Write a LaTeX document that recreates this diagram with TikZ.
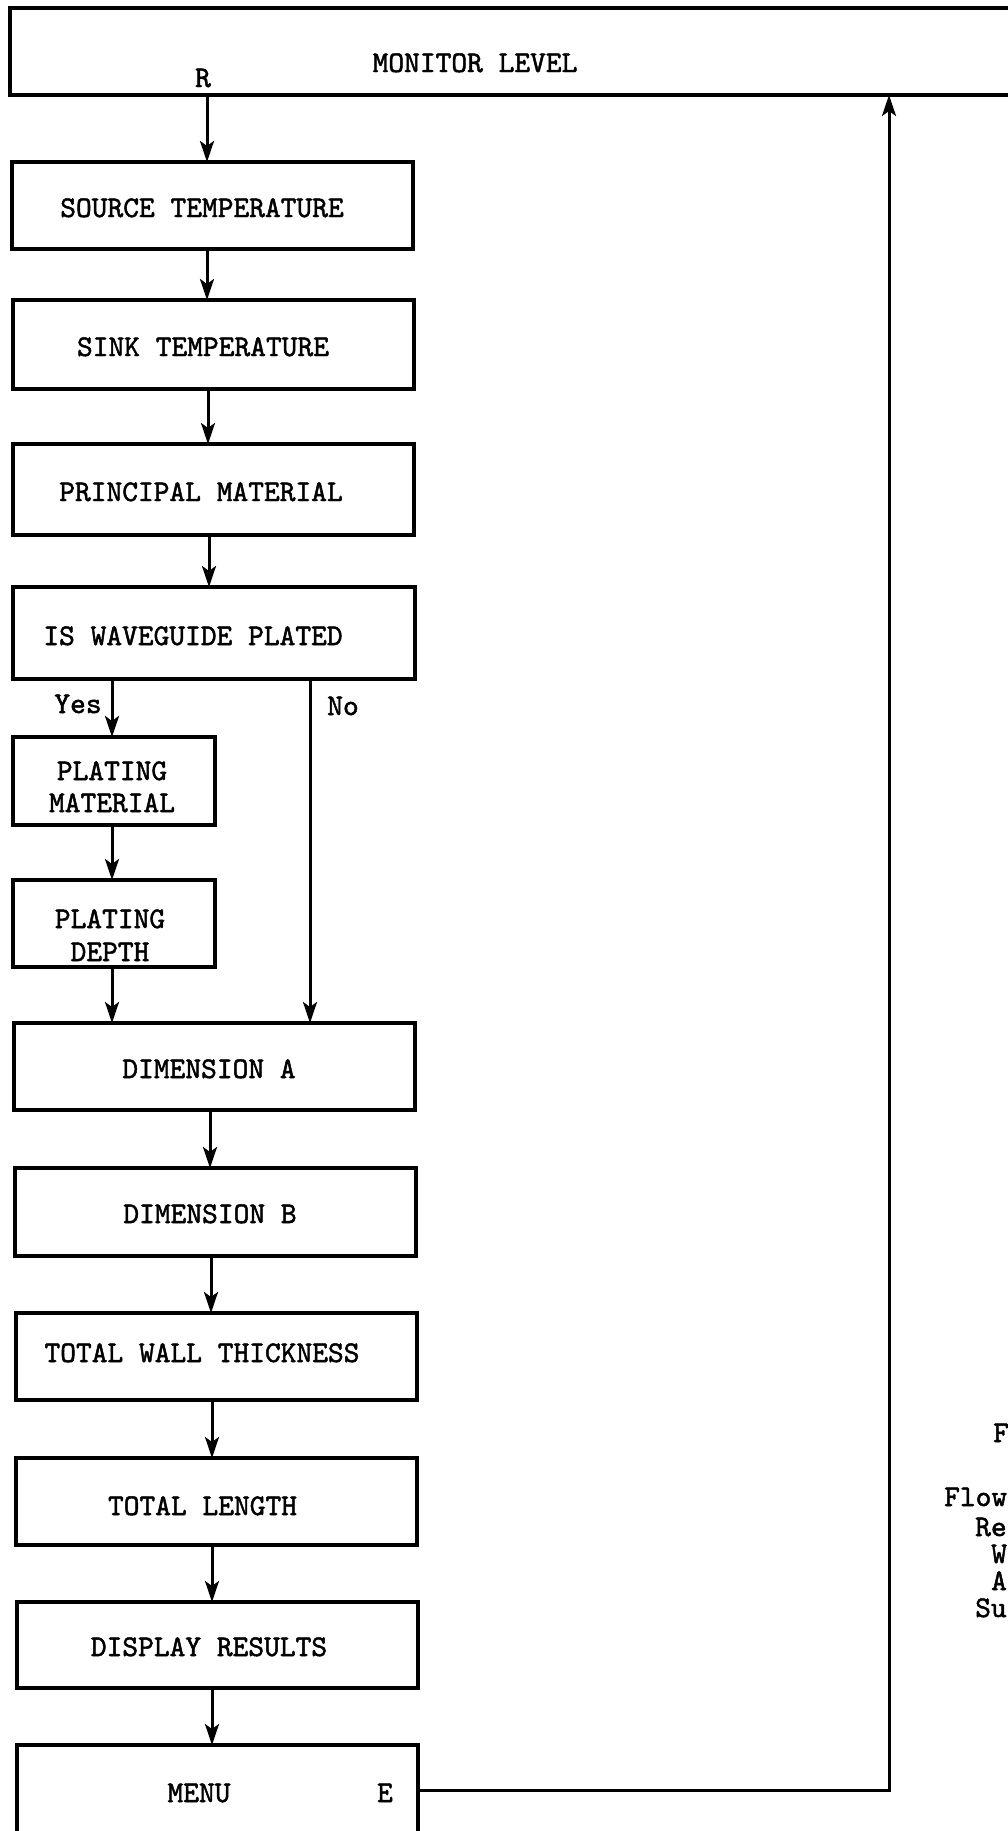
\documentclass[tikz,border=0pt]{standalone}
\usepackage{fontspec}
\newfontfamily\twfont{lmmono10-regular.otf}[FakeBold=1.6]
\usetikzlibrary{arrows.meta}
\begin{document}
\begin{tikzpicture}[x=1pt,y=-1pt,
  box/.style={draw, line width=3.5pt, rectangle, inner sep=0pt, outer sep=0pt},
  lbl/.style={font=\twfont\fontsize{30}{36}\selectfont, inner sep=0pt, anchor=base},
  lblw/.style={lbl, anchor=base west},
  arr/.style={line width=3pt, -{Stealth[length=21pt,width=14pt,inset=5pt]}}]
\useasboundingbox (0,0) rectangle (1008,1831);
\fill[white] (0,0) rectangle (1008,1831);
\clip (0,0) rectangle (1008,1831);

% monitor level
\node[box, anchor=north west, minimum width=1100pt, minimum height=87pt] (mon) at (10,8) {};
\node[lbl] (monT) at (475,72) {MONITOR LEVEL};
\node[lbl] (rT) at (203,87) {R};

% left column boxes
\node[box, minimum width=401pt, minimum height=87pt] (src) at (212.5,205.5) {};
\node[lbl] (srcT) at (202,217) {SOURCE TEMPERATURE};
\node[box, minimum width=401pt, minimum height=89pt] (sink) at (213.5,344.5) {};
\node[lbl] (sinkT) at (203,356) {SINK TEMPERATURE};
\node[box, minimum width=401pt, minimum height=91pt] (prin) at (213.5,489.5) {};
\node[lbl] (prinT) at (201,501) {PRINCIPAL MATERIAL};
\node[box, minimum width=402pt, minimum height=92pt] (plated) at (214,633) {};
\node[lbl] (platedT) at (193,645) {IS WAVEGUIDE PLATED};

\node[box, minimum width=202pt, minimum height=88pt] (pmat) at (114,781) {};
\node[lbl] (pmatA) at (112,780) {PLATING};
\node[lbl] (pmatB) at (112,812) {MATERIAL};
\node[box, minimum width=202pt, minimum height=87pt] (pdep) at (114,923.5) {};
\node[lbl] (pdepA) at (110,928) {PLATING};
\node[lbl] (pdepB) at (110,961) {DEPTH};

\node[box, minimum width=401pt, minimum height=87pt] (dima) at (214.5,1066.5) {};
\node[lbl] (dimaT) at (209,1078) {DIMENSION A};
\node[box, minimum width=401pt, minimum height=88pt] (dimb) at (215.5,1212) {};
\node[lbl] (dimbT) at (210,1223) {DIMENSION B};
\node[box, minimum width=401pt, minimum height=87pt] (wall) at (216.5,1356.5) {};
\node[lbl] (wallT) at (202,1362) {TOTAL WALL THICKNESS};
\node[box, minimum width=401pt, minimum height=87pt] (len) at (216.5,1501.5) {};
\node[lbl] (lenT) at (202.5,1515) {TOTAL LENGTH};
\node[box, minimum width=401pt, minimum height=86pt] (disp) at (217.5,1645) {};
\node[lbl] (dispT) at (209,1656) {DISPLAY RESULTS};
\node[box, anchor=north west, minimum width=401pt, minimum height=150pt] (menu) at (17,1745) {};
\node[lbl] (menuT) at (199,1802) {MENU};
\node[lbl] (eT) at (385,1802) {E};

% branch labels
\node[lbl] (yesT) at (78,713) {Yes};
\node[lbl] (noT) at (343,715) {No};

% connectors
\draw[arr] (mon.south -| 207,0) -- (src.north -| 207,0);
\draw[arr] (src.south -| 207,0) -- (sink.north -| 207,0);
\draw[arr] (sink.south -| 208,0) -- (prin.north -| 208,0);
\draw[arr] (prin.south -| 209,0) -- (plated.north -| 209,0);
\draw[arr] (plated.south -| 112,0) -- (pmat.north -| 112,0);
\draw[arr] (pmat.south -| 112,0) -- (pdep.north -| 112,0);
\draw[arr] (pdep.south -| 112,0) -- (dima.north -| 112,0);
\draw[arr] (plated.south -| 310,0) -- (dima.north -| 310,0);
\draw[arr] (dima.south -| 210,0) -- (dimb.north -| 210,0);
\draw[arr] (dimb.south -| 211,0) -- (wall.north -| 211,0);
\draw[arr] (wall.south -| 212,0) -- (len.north -| 212,0);
\draw[arr] (len.south -| 212,0) -- (disp.north -| 212,0);
\draw[arr] (disp.south -| 212,0) -- (menu.north -| 212,0);
\coordinate (ret) at (889,1790);
\draw[arr] (menu.east |- ret) -- (ret) -- (ret |- mon.south);

% caption fragments at right edge
\node[lblw] (c1) at (993,1442) {F};
\node[lblw] (c2) at (944,1506) {Flow};
\node[lblw] (c3) at (975,1536) {Re};
\node[lblw] (c4) at (991,1563) {W};
\node[lblw] (c5) at (991,1590) {A};
\node[lblw] (c6) at (975,1617) {Su};
\end{tikzpicture}
\end{document}
